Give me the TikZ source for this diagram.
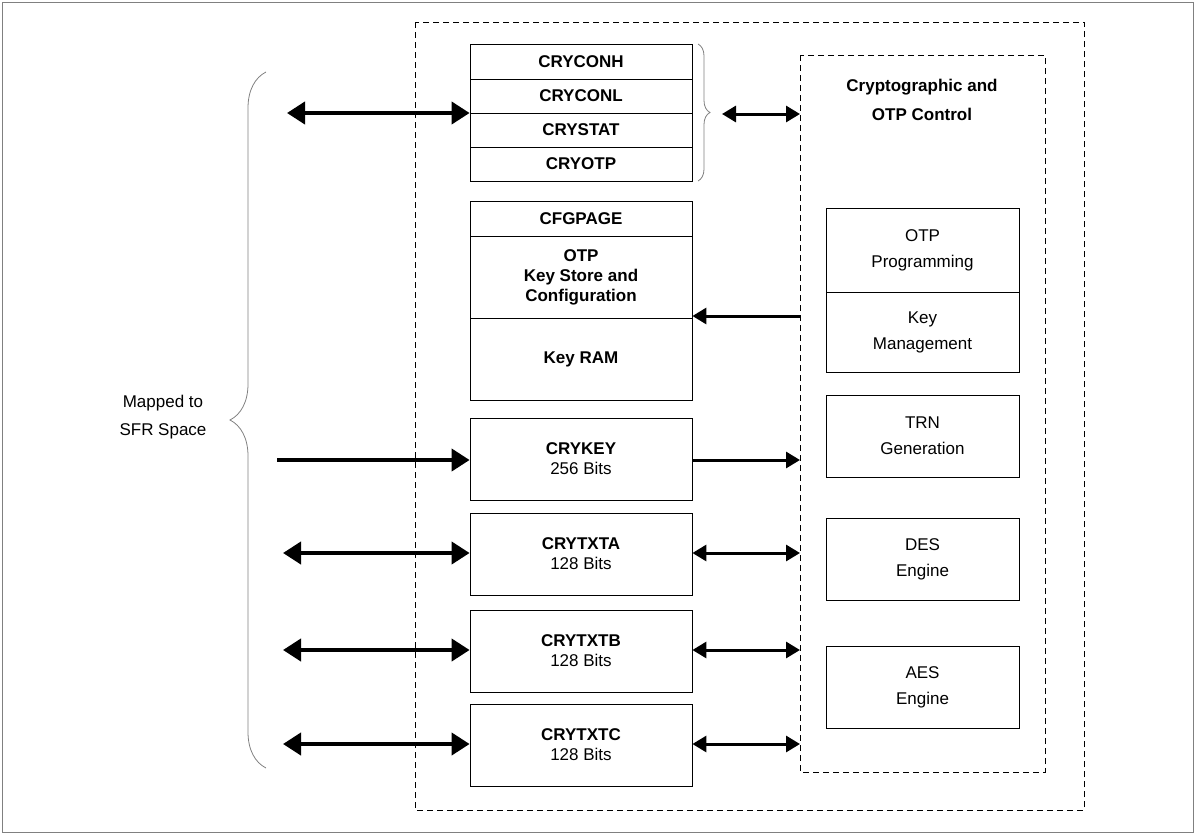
\documentclass[tikz,border=0pt]{standalone}
\usepackage{fontspec}
\setmainfont{Liberation Sans}
\usetikzlibrary{arrows.meta,decorations.pathreplacing}
\tikzset{
  reg/.style={draw,thick,minimum width=222pt,align=center,font=\fontsize{17}{20}\selectfont,inner sep=0pt},
  blk/.style={draw,thick,minimum width=193pt,align=center,font=\fontsize{17}{26}\selectfont,inner sep=0pt},
  frm/.style={thick,dash pattern=on 6pt off 4pt},
  bus/.style={line width=4pt,-{Triangle[length=18pt,width=22pt]}},
  dbus/.style={line width=4pt,{Triangle[length=18pt,width=22pt]}-{Triangle[length=18pt,width=22pt]}},
  lnk/.style={line width=3pt,-{Triangle[length=14pt,width=16pt]}},
  dlnk/.style={line width=3pt,{Triangle[length=14pt,width=16pt]}-{Triangle[length=14pt,width=16pt]}}
}
\begin{document}
\begin{tikzpicture}[x=1pt,y=-1pt]
  \useasboundingbox (0,0) rectangle (1196,835);
  \draw[gray] (2,2) rectangle (1193,832);
  \draw[frm] (415,22) rectangle (1084,810);
  \draw[frm] (800,55) rectangle (1045,772);
  % register stack
  \node[reg,minimum height=35pt] (conh) at (581,61.5) {\textbf{CRYCONH}};
  \node[reg,minimum height=34pt] (conl) at (581,96) {\textbf{CRYCONL}};
  \node[reg,minimum height=34pt] (stat) at (581,130) {\textbf{CRYSTAT}};
  \node[reg,minimum height=34pt] (otp) at (581,164) {\textbf{CRYOTP}};
  \node[reg,minimum height=35pt] (cfg) at (581,218.5) {\textbf{CFGPAGE}};
  \node[reg,minimum height=82pt] (store) at (581,277) {\textbf{OTP}\\\textbf{Key Store and}\\\textbf{Configuration}};
  \node[reg,minimum height=82pt] (kram) at (581,359) {\textbf{Key RAM}};
  \node[reg,minimum height=82pt] (key) at (581,459) {\textbf{CRYKEY}\\256 Bits};
  \node[reg,minimum height=82pt] (txta) at (581,554) {\textbf{CRYTXTA}\\128 Bits};
  \node[reg,minimum height=82pt] (txtb) at (581,651) {\textbf{CRYTXTB}\\128 Bits};
  \node[reg,minimum height=82pt] (txtc) at (581,745) {\textbf{CRYTXTC}\\128 Bits};
  % control blocks
  \node[font=\fontsize{17}{29}\selectfont\bfseries,align=center] (ctl) at (922,100) {Cryptographic and\\OTP Control};
  \node[blk,minimum height=84pt] (prog) at (922.5,250) {OTP\\Programming};
  \node[blk,minimum height=80pt] (mgmt) at (922.5,332) {Key\\Management};
  \node[blk,minimum height=82pt] (trn) at (922.5,436) {TRN\\Generation};
  \node[blk,minimum height=82pt] (des) at (922.5,559) {DES\\Engine};
  \node[blk,minimum height=82pt] (aes) at (922.5,687) {AES\\Engine};
  % braces
  \draw[gray,thick,decorate,decoration={brace,amplitude=12pt}] (698,44) -- (698,181);
  \draw[gray,thick,decorate,decoration={brace,amplitude=36pt,mirror}] (266,72) -- (266,768);
  \node[font=\fontsize{17}{28}\selectfont,align=center] (sfr) at (163,417) {Mapped to\\SFR Space};
  % connectors
  \coordinate (c1) at (287,113);
  \coordinate (c2) at (277,460);
  \coordinate (c3) at (283,553);
  \coordinate (c4) at (283,650);
  \coordinate (c5) at (283,744);
  \coordinate (d0) at (800,316);
  \coordinate (d1) at (722,114);
  \coordinate (d2) at (800,114);
  \draw[dbus] (c1) -- (c1 -| stat.west);
  \draw[bus] (c2) -- (c2 -| key.west);
  \draw[dbus] (c3) -- (c3 -| txta.west);
  \draw[dbus] (c4) -- (c4 -| txtb.west);
  \draw[dbus] (c5) -- (c5 -| txtc.west);
  \draw[dlnk] (d1) -- (d2);
  \draw[lnk] (d0) -- (d0 -| kram.east);
  \draw[lnk] (c2 -| key.east) -- (c2 -| d0);
  \draw[dlnk] (c3 -| txta.east) -- (c3 -| d0);
  \draw[dlnk] (c4 -| txtb.east) -- (c4 -| d0);
  \draw[dlnk] (c5 -| txtc.east) -- (c5 -| d0);
\end{tikzpicture}
\end{document}
